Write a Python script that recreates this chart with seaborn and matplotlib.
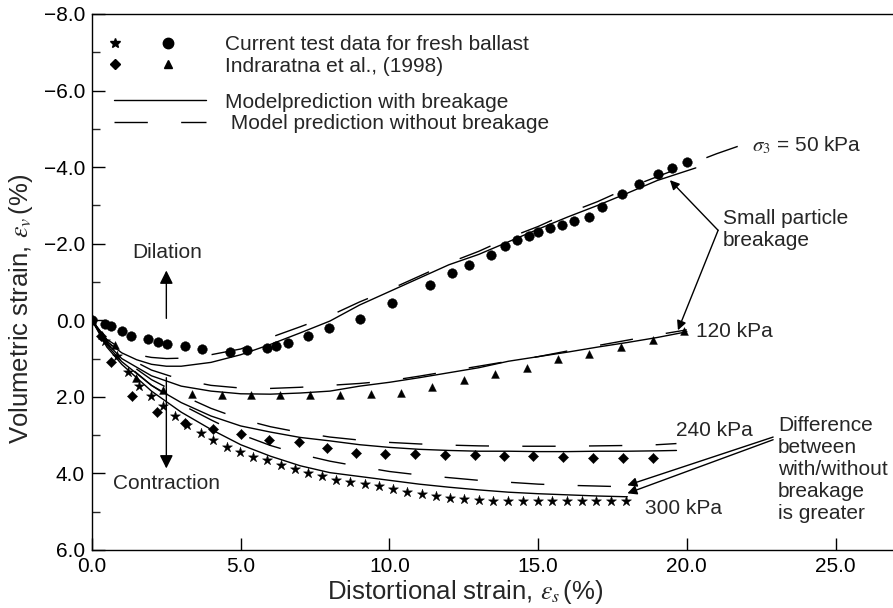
import numpy as np
import pandas as pd
import matplotlib
matplotlib.use("Agg")
import matplotlib.pyplot as plt
import seaborn as sns
from matplotlib.lines import Line2D
from matplotlib.legend_handler import HandlerTuple
from matplotlib.ticker import MultipleLocator

# ---- measured data: distortional strain (%) vs volumetric strain (%) ----
# current tests, sigma3 = 50 kPa (circles)
circ_x = [0.0, 0.44, 0.63, 1.0, 1.31, 1.89, 2.21, 2.51, 3.13, 3.69, 4.64, 5.22, 5.87,
          6.18, 6.58, 7.25, 7.97, 9.0, 10.07, 11.36, 12.11, 12.67, 13.40, 13.9, 14.3,
          14.7, 15.0, 15.4, 15.8, 16.2, 16.7, 17.13, 17.83, 18.39, 19.04, 19.51, 20.02]
circ_y = [0.0, 0.09, 0.16, 0.28, 0.40, 0.49, 0.57, 0.61, 0.68, 0.75, 0.84, 0.78, 0.72,
          0.67, 0.60, 0.40, 0.19, -0.04, -0.45, -0.91, -1.24, -1.45, -1.71, -1.95, -2.1,
          -2.2, -2.3, -2.4, -2.5, -2.6, -2.7, -2.96, -3.29, -3.57, -3.81, -3.98, -4.13]
# Indraratna et al. (1998), sigma3 = 120 kPa (triangles)
tri_x = [0.0, 0.35, 0.77, 1.48, 2.40, 3.35, 4.36, 5.34, 6.32, 7.33, 8.34, 9.37, 10.38,
         11.43, 12.50, 13.55, 14.61, 15.68, 16.72, 17.78, 18.85, 19.91]
tri_y = [0.0, 0.38, 0.65, 1.52, 1.81, 1.93, 1.94, 1.95, 1.95, 1.95, 1.95, 1.93, 1.91,
         1.74, 1.55, 1.41, 1.25, 1.0, 0.87, 0.70, 0.52, 0.29]
# Indraratna et al. (1998), sigma3 = 240 kPa (diamonds)
dia_x = [0.0, 0.3, 0.63, 1.33, 2.20, 3.13, 4.06, 5.01, 5.96, 6.95, 7.89, 8.86, 9.85,
         10.86, 11.87, 12.87, 13.85, 14.83, 15.84, 16.85, 17.84, 18.85]
dia_y = [0.0, 0.4, 1.09, 1.98, 2.39, 2.68, 2.85, 2.98, 3.13, 3.18, 3.33, 3.46, 3.50,
         3.50, 3.52, 3.52, 3.54, 3.55, 3.56, 3.59, 3.59, 3.59]
# current tests, sigma3 = 300 kPa (stars)
star_x = [0.0, 0.45, 0.83, 1.2, 1.58, 1.97, 2.40, 2.79, 3.21, 3.65, 4.08, 4.53, 4.97,
          5.42, 5.89, 6.34, 6.82, 7.27, 7.74, 8.20, 8.69, 9.18, 9.65, 10.13, 10.6,
          11.08, 11.56, 12.03, 12.51, 13.0, 13.49, 13.99, 14.5, 14.98, 15.47, 15.97,
          16.46, 16.96, 17.46, 17.97]
star_y = [0.0, 0.55, 0.94, 1.35, 1.72, 1.98, 2.25, 2.50, 2.74, 2.94, 3.12, 3.31, 3.44,
          3.57, 3.66, 3.79, 3.89, 3.99, 4.07, 4.16, 4.22, 4.28, 4.33, 4.40, 4.48,
          4.54, 4.60, 4.63, 4.68, 4.70, 4.72, 4.72, 4.72, 4.72, 4.72, 4.72,
          4.72, 4.72, 4.72, 4.72]

# ---- model predictions ----
m50_x = [0, 0.5, 1, 1.5, 2, 2.5, 3, 4, 5, 6, 7, 8, 9, 10, 11, 12, 13, 14, 15, 16, 17, 18, 19, 20.3]
m50_with = [0, 0.55, 0.85, 1.03, 1.15, 1.2, 1.2, 1.1, 0.9, 0.63, 0.33, 0.02, -0.4, -0.75,
            -1.1, -1.45, -1.72, -2.05, -2.38, -2.7, -3.0, -3.32, -3.65, -3.98]
m50w_x = [0, 0.5, 1, 1.5, 2, 2.5, 3, 4, 5, 6, 7, 8, 9, 10, 11, 12, 13, 14, 15, 16, 17,
          18, 19, 20, 21, 22]
m50_without = [0, 0.5, 0.75, 0.9, 0.97, 1.0, 0.99, 0.9, 0.75, 0.45, 0.17, -0.12, -0.48,
               -0.8, -1.15, -1.5, -1.8, -2.15, -2.45, -2.8, -3.1, -3.45, -3.75, -4.05,
               -4.35, -4.62]
m120_x = [0, 0.5, 1, 2, 3, 4, 5, 6, 7, 8, 9, 10, 11, 12, 13, 14, 15, 16, 17, 18, 19, 20]
m120_with = [0, 0.6, 1.0, 1.45, 1.72, 1.85, 1.92, 1.93, 1.9, 1.85, 1.72, 1.62, 1.5,
             1.37, 1.24, 1.07, 0.95, 0.83, 0.7, 0.58, 0.45, 0.3]
m120_without = [0, 0.55, 0.9, 1.3, 1.55, 1.7, 1.77, 1.78, 1.75, 1.7, 1.65, 1.58, 1.46,
                1.33, 1.2, 1.07, 0.95, 0.8, 0.66, 0.52, 0.38, 0.25]
m240_x = [0, 0.5, 1, 2, 3, 4, 5, 6, 7, 8, 9, 10, 11, 12, 13, 14, 15, 16, 17, 18, 19, 19.65]
m240_with = [0, 0.65, 1.08, 1.7, 2.15, 2.5, 2.76, 2.92, 3.06, 3.15, 3.25, 3.32, 3.37,
             3.4, 3.42, 3.42, 3.43, 3.43, 3.42, 3.42, 3.41, 3.4]
m240_without = [0, 0.6, 1.0, 1.55, 1.95, 2.3, 2.58, 2.78, 2.93, 3.05, 3.13, 3.19, 3.23,
                3.26, 3.28, 3.29, 3.29, 3.29, 3.28, 3.27, 3.25, 3.22]
m300_x = [0, 0.5, 1, 2, 3, 4, 5, 6, 7, 8, 9, 10, 11, 12, 13, 14, 15, 16, 17, 18]
m300_with = [0, 0.7, 1.15, 1.85, 2.4, 2.85, 3.25, 3.55, 3.8, 3.98, 4.08, 4.18, 4.28,
             4.36, 4.43, 4.49, 4.53, 4.56, 4.59, 4.61]
m300_without = [0, 0.6, 1.05, 1.7, 2.2, 2.6, 2.98, 3.27, 3.5, 3.68, 3.82, 3.95, 4.04,
                4.11, 4.18, 4.23, 4.28, 4.31, 4.33, 4.35]

x_ticks = [0, 5, 10, 15, 20, 25]
y_ticks = [-8, -6, -4, -2, 0, 2, 4, 6]

# ---- assemble model curves in long form ----
frames = []
for p, xs, ys, kind in [
    (50, m50_x, m50_with, "with"), (50, m50w_x, m50_without, "without"),
    (120, m120_x, m120_with, "with"), (120, m120_x, m120_without, "without"),
    (240, m240_x, m240_with, "with"), (240, m240_x, m240_without, "without"),
    (300, m300_x, m300_with, "with"), (300, m300_x, m300_without, "without"),
]:
    frames.append(pd.DataFrame({"es": xs, "ev": ys, "curve": f"{p}-{kind}", "model": kind}))
model_df = pd.concat(frames, ignore_index=True)

sns.set_style("ticks")
plt.rcParams["font.family"] = ["Liberation Sans", "DejaVu Sans"]
plt.rcParams["mathtext.fontset"] = "stix"
FS = 15
LFS = 18.5

fig = plt.figure(figsize=(8.93, 6.08), dpi=100)
ax = fig.add_axes([0.1030, 0.0954, 0.8970, 0.8816])

sns.lineplot(data=model_df, x="es", y="ev", units="curve", estimator=None, sort=False,
             style="model", dashes={"with": "", "without": (24, 24)},
             color="black", linewidth=1.0, legend=False, ax=ax)

mk = dict(color="black", edgecolor="black", linewidth=0.3, legend=False, ax=ax, zorder=3)
sns.scatterplot(x=circ_x, y=circ_y, marker="o", s=48, **mk)
sns.scatterplot(x=tri_x, y=tri_y, marker="^", s=32, **mk)
sns.scatterplot(x=dia_x, y=dia_y, marker="D", s=27, **mk)
sns.scatterplot(x=star_x, y=star_y, marker="*", s=58, **mk)

ax.set_xlim(0, 26.93)
ax.set_ylim(6, -8)
ax.set_xticks(x_ticks)
ax.set_xticklabels([f"{v:.1f}" for v in x_ticks])
ax.set_yticks(y_ticks)
ax.set_yticklabels([f"{v:.1f}".replace("-", "\u2212") for v in y_ticks])
ax.yaxis.set_minor_locator(MultipleLocator(1))
ax.tick_params(axis="both", which="major", direction="in", length=9, width=1,
               labelsize=FS, colors="black")
ax.tick_params(axis="x", which="major", pad=5)
ax.tick_params(axis="y", which="major", pad=5)
ax.tick_params(axis="y", which="minor", direction="in", length=5.5, width=1)
for side in ["left", "bottom", "top"]:
    ax.spines[side].set_visible(True)
    ax.spines[side].set_linewidth(1.0)
    ax.spines[side].set_color("black")
ax.spines["right"].set_visible(False)

ax.set_xlabel(r"Distortional strain, $\varepsilon_s\,$(%)", fontsize=LFS)
ax.set_ylabel(r"Volumetric strain, $\varepsilon_v\,$(%)", fontsize=LFS)
ax.yaxis.set_label_coords(-0.071, 0.45)
ax.xaxis.set_label_coords(0.466, -0.052)

# ---- legends ----
h_star = Line2D([], [], ls="none", marker="*", color="black", markersize=7)
h_circ = Line2D([], [], ls="none", marker="o", color="black", markersize=7.5)
h_dia = Line2D([], [], ls="none", marker="D", color="black", markersize=5.5)
h_tri = Line2D([], [], ls="none", marker="^", color="black", markersize=6)
leg1 = ax.legend([(h_star, h_circ), (h_dia, h_tri)],
                 ["Current test data for fresh ballast", "Indraratna et al., (1998)"],
                 handler_map={tuple: HandlerTuple(ndivide=None, pad=1.2)},
                 loc="upper left", bbox_to_anchor=(0.012, 0.961), frameon=False,
                 fontsize=FS, handlelength=3.87, handletextpad=2.05, labelspacing=0.13,
                 borderpad=0, borderaxespad=0)
ax.add_artist(leg1)
h_with = Line2D([], [], color="black", lw=1.0)
h_without = Line2D([], [], color="black", lw=1.0, dashes=(24, 24))
ax.legend([h_with, h_without],
          ["Modelprediction with breakage", " Model prediction without breakage"],
          loc="upper left", bbox_to_anchor=(0.028, 0.853), frameon=False,
          fontsize=FS, handlelength=4.42, handletextpad=0.87, labelspacing=0.13,
          borderpad=0, borderaxespad=0)

# ---- annotations ----
arrow = dict(arrowstyle="-|>", color="black", lw=1.0, mutation_scale=14,
             shrinkA=0, shrinkB=0)
ax.text(2.52, -1.78, "Dilation", fontsize=FS, ha="center", va="center")
ax.annotate("", xy=(2.5, -1.3), xytext=(2.5, -0.05),
            arrowprops=dict(arrow, mutation_scale=20))
ax.text(2.52, 4.26, "Contraction", fontsize=FS, ha="center", va="center")
ax.annotate("", xy=(2.5, 3.87), xytext=(2.5, 1.5),
            arrowprops=dict(arrow, mutation_scale=20))

ax.text(22.2, -4.57, r"$\sigma_3$ = 50 kPa", fontsize=FS, ha="left", va="center")
ax.text(21.2, -2.38, "Small particle\nbreakage", fontsize=FS, ha="left", va="center",
        linespacing=1.2)
ax.annotate("", xy=(19.43, -3.66), xytext=(21.05, -2.35), arrowprops=arrow)
ax.annotate("", xy=(19.7, 0.26), xytext=(21.05, -2.35), arrowprops=arrow)
ax.text(20.3, 0.30, "120 kPa", fontsize=FS, ha="left", va="center")
ax.text(19.65, 2.87, "240 kPa", fontsize=FS, ha="left", va="center")
ax.text(18.59, 4.92, "300 kPa", fontsize=FS, ha="left", va="center")
ax.text(23.07, 3.89, "Difference\nbetween\nwith/without\nbreakage\nis greater",
        fontsize=FS, ha="left", va="center", linespacing=1.2)
ax.annotate("", xy=(18.0, 4.31), xytext=(22.9, 3.05), arrowprops=arrow)
ax.annotate("", xy=(18.0, 4.52), xytext=(22.9, 3.12), arrowprops=arrow)

fig.savefig("out.png", dpi=100)
